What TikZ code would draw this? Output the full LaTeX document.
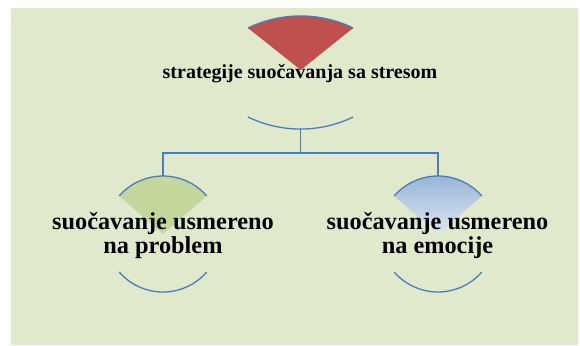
\documentclass[tikz,border=0pt]{standalone}
\usepackage{fontspec}
\setmainfont{Liberation Serif}
\definecolor{bgc}{HTML}{E0E9CC}
\definecolor{redf}{HTML}{C0504D}
\definecolor{greenf}{HTML}{C3D69B}
\definecolor{bluetop}{HTML}{95B3D7}
\definecolor{bluebot}{HTML}{DDE7F3}
\definecolor{linec}{HTML}{4A7EBB}
\begin{document}
\begin{tikzpicture}[x=1pt,y=1pt,
  arcline/.style={draw=linec,line width=1.3pt},
  conn/.style={draw=linec,line width=1.3pt},
  toplabel/.style={font=\fontsize{20}{22}\selectfont\bfseries,inner sep=0pt,anchor=base},
  sublabel/.style={font=\fontsize{24.3}{24.5}\selectfont\bfseries,inner sep=0pt,align=center,anchor=center}]
\useasboundingbox (0,0) rectangle (580,-345);
\fill[white] (0,0) rectangle (580,-345);
\fill[bgc] (11,-8) rectangle (578,-345);
% top red shape
\fill[redf] (300.7,-70) -- (248,-28) arc[start angle=115.8,end angle=64.2,radius=120.8pt] -- cycle;
\draw[arcline] (248,-28) arc[start angle=115.8,end angle=64.2,radius=120.8pt];
\draw[arcline] (248,-117) arc[start angle=244.2,end angle=295.8,radius=120.8pt];
\coordinate (topb) at (300.7,-129);
% left green shape
\fill[greenf] (163,-234) -- ++(139:58pt) arc[start angle=139,end angle=41,radius=58pt] -- cycle;
\draw[arcline] (163,-234) ++(139:58pt) arc[start angle=139,end angle=41,radius=58pt];
\draw[arcline] (163,-234) ++(221:58pt) arc[start angle=221,end angle=319,radius=58pt];
\coordinate (leftt) at (163,-176);
% right blue shape
\shade[top color=bluetop,bottom color=bluebot] (438,-234) -- ++(139:58pt) arc[start angle=139,end angle=41,radius=58pt] -- cycle;
\draw[arcline] (438,-234) ++(139:58pt) arc[start angle=139,end angle=41,radius=58pt];
\draw[arcline] (438,-234) ++(221:58pt) arc[start angle=221,end angle=319,radius=58pt];
\coordinate (rightt) at (438,-176);
% connectors
\draw[conn] (topb) -- ++(0,-24) -| (leftt);
\draw[conn] (topb) -- ++(0,-24) -| (rightt);
% labels
\node[toplabel] (top) at (300,-78) {strategije suočavanja sa stresom};
\node[sublabel] (left) at (163,-235.5) {suočavanje usmereno\\na problem};
\node[sublabel] (right) at (437.5,-235.5) {suočavanje usmereno\\na emocije};
\end{tikzpicture}
\end{document}
